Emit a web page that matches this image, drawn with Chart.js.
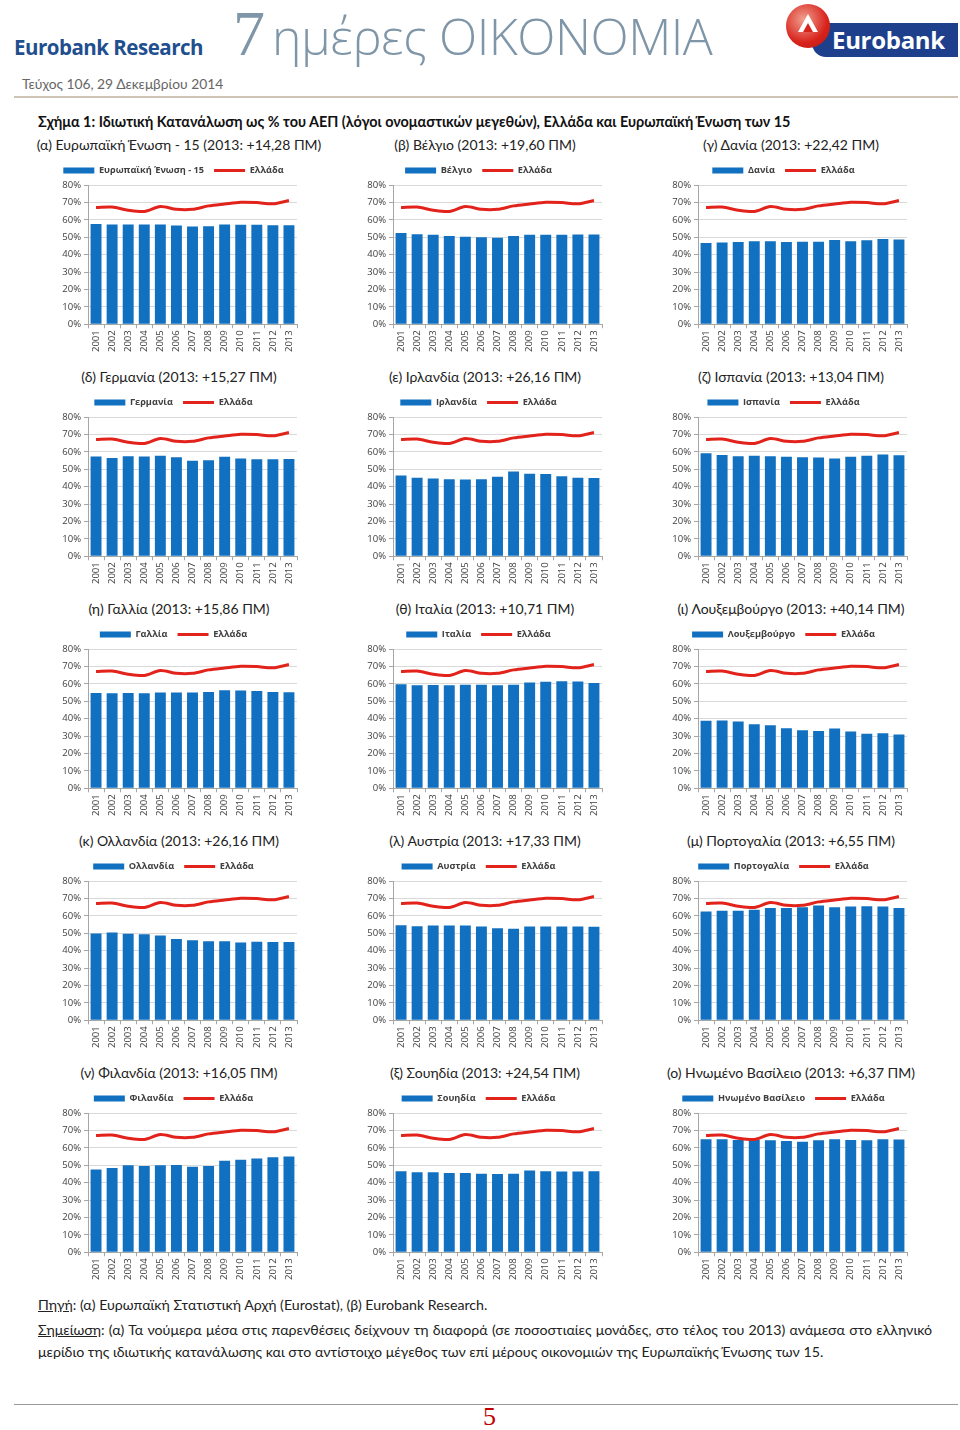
<!DOCTYPE html>
<html>
<head>
<meta charset="utf-8">
<script src="https://cdn.jsdelivr.net/npm/chart.js@4.4.1/dist/chart.umd.min.js"></script>
<style>
  html,body{margin:0;padding:0;background:#fff;}
  body{width:960px;height:1430px;position:relative;overflow:hidden;font-family:"Lato","Open Sans",sans-serif;}
  .abs{position:absolute;white-space:nowrap;}
  canvas.ch{position:absolute;}
  .sub{position:absolute;width:320px;text-align:center;font-size:14px;line-height:20px;color:#222;font-family:"Lato",sans-serif;}
</style>
</head>
<body>
<!-- header -->
<div class="abs" style="left:14px;top:33px;font:bold 20.5px 'Open Sans',sans-serif;color:#1f4f8f;letter-spacing:-0.5px;">Eurobank Research</div>
<div class="abs" style="left:233px;top:-3px;font:64px 'Liberation Serif',serif;color:#7f96a8;">7</div>
<div class="abs" style="left:272px;top:3px;font:300 49px 'Open Sans',sans-serif;color:#7f96a8;transform-origin:0 0;transform:scaleX(1.02);letter-spacing:-0.5px;">ημέρες ΟΙΚΟΝΟΜΙΑ</div>
<div style="position:absolute;left:812px;top:23px;width:146px;height:34px;background:#1d3f8c;border-radius:0 0 0 14px;"></div>
<div class="abs" style="left:832px;top:23px;font:bold 24px 'Open Sans',sans-serif;color:#fff;letter-spacing:-0.3px;">Eurobank</div>
<div style="position:absolute;left:786px;top:4px;width:44px;height:44px;border-radius:50%;background:radial-gradient(circle at 40% 35%,#f0a090,#d8231c 60%,#b01810);"></div>
<div style="position:absolute;left:798px;top:14px;width:0;height:0;border-left:10px solid transparent;border-right:10px solid transparent;border-bottom:18px solid #fff;"></div>
<div style="position:absolute;left:803px;top:23px;width:0;height:0;border-left:5px solid transparent;border-right:5px solid transparent;border-bottom:9px solid #d8231c;"></div>
<div class="abs" style="left:22px;top:75px;font:13.8px 'Lato',sans-serif;color:#666;">Τεύχος 106, 29 Δεκεμβρίου 2014</div>
<div style="position:absolute;left:14px;top:96px;width:944px;height:2px;background:#cfc3b3;"></div>

<div class="abs" style="left:38px;top:113px;font:bold 14.4px 'Lato',sans-serif;color:#111;">Σχήμα 1: Ιδιωτική Κατανάλωση ως % του ΑΕΠ (λόγοι ονομαστικών μεγεθών), Ελλάδα και Ευρωπαϊκή Ένωση των 15</div>

<div id="grid"></div>

<!-- footer -->
<div class="abs" style="left:38px;top:1296px;font:14.2px 'Lato',sans-serif;color:#222;"><u>Πηγή</u>: (α) Ευρωπαϊκή Στατιστική Αρχή (Eurostat), (β) Eurobank Research.</div>
<div style="position:absolute;left:38px;top:1319px;width:894px;font:14.2px 'Lato',sans-serif;color:#222;line-height:22px;text-align:justify;text-align-last:justify;white-space:nowrap;"><u>Σημείωση</u>: (α) Τα νούμερα μέσα στις παρενθέσεις δείχνουν τη διαφορά (σε ποσοστιαίες μονάδες, στο τέλος του 2013) ανάμεσα στο ελληνικό</div>
<div class="abs" style="left:38px;top:1341px;font:14.2px 'Lato',sans-serif;color:#222;line-height:22px;">μερίδιο της ιδιωτικής κατανάλωσης και στο αντίστοιχο μέγεθος των επί μέρους οικονομιών της Ευρωπαϊκής Ένωσης των 15.</div>
<div style="position:absolute;left:14px;top:1404px;width:944px;height:1px;background:#999;"></div>
<div class="abs" style="left:483px;top:1402px;font:26px 'Liberation Serif',serif;color:#c00000;">5</div>

<script>
// ---------------- DATA ----------------
const years = ['2001','2002','2003','2004','2005','2006','2007','2008','2009','2010','2011','2012','2013'];
const yTicks = [0,10,20,30,40,50,60,70,80];
const greeceLabel = 'Ελλάδα';
const greece      = [67.2,67.4,65.6,64.9,67.7,66.1,66.1,68.1,69.2,70.2,70.0,69.3,71.2];

const eu15        = [57.7,57.4,57.4,57.4,57.4,56.8,56.2,56.4,57.4,57.2,57.2,57.0,56.9];
const belgium     = [52.5,51.8,51.5,50.8,50.3,50.0,49.8,50.8,51.5,51.5,51.5,51.7,51.6];
const denmark     = [46.7,47.0,47.3,47.8,47.8,47.3,47.5,47.5,48.5,47.8,48.3,49.0,48.8];
const germany     = [57.4,56.6,57.5,57.4,57.8,57.0,55.0,55.2,57.3,56.2,55.8,55.8,55.9];
const ireland     = [46.5,45.2,44.8,44.3,44.2,44.3,45.8,48.8,47.4,47.3,46.0,45.2,45.0];
const spain       = [59.2,58.3,57.6,57.8,57.5,57.3,57.0,56.8,56.2,57.3,57.8,58.6,58.1];
const france      = [54.8,54.6,54.8,54.7,55.1,55.1,55.1,55.4,56.4,56.3,55.9,55.4,55.3];
const italy       = [59.9,59.3,59.4,59.3,59.5,59.5,59.3,59.5,60.8,61.3,61.6,61.4,60.5];
const luxembourg  = [38.8,39.0,38.4,36.8,36.2,34.5,33.4,32.9,34.4,32.6,31.4,31.7,31.0];
const netherlands = [49.9,50.5,49.8,49.5,48.8,46.7,46.0,45.5,45.5,44.8,45.1,45.0,45.0];
const austria     = [54.6,54.1,54.5,54.5,54.5,54.0,53.0,52.6,54.0,54.0,54.0,54.0,53.8];
const portugal    = [62.6,63.0,63.0,63.6,64.6,64.6,65.0,66.0,65.0,65.5,65.6,65.5,64.6];
const finland     = [47.6,48.5,50.0,49.6,50.0,50.2,49.2,49.6,52.6,53.2,54.0,54.6,55.1];
const sweden      = [46.6,46.1,46.1,45.6,45.6,45.1,45.0,45.1,47.1,46.6,46.5,46.5,46.6];
const uk          = [65.0,65.0,64.6,64.6,64.5,64.0,63.6,64.5,65.0,64.6,64.5,65.0,64.8];

const countryLabels = ['Ευρωπαϊκή Ένωση - 15','Βέλγιο','Δανία','Γερμανία','Ιρλανδία','Ισπανία','Γαλλία','Ιταλία','Λουξεμβούργο','Ολλανδία','Αυστρία','Πορτογαλία','Φιλανδία','Σουηδία','Ηνωμένο Βασίλειο'];
const countrySeries = [eu15,belgium,denmark,germany,ireland,spain,france,italy,luxembourg,netherlands,austria,portugal,finland,sweden,uk];
const subtitles = [
  '(α) Ευρωπαϊκή Ένωση - 15 (2013: +14,28 ΠΜ)',
  '(β) Βέλγιο (2013: +19,60 ΠΜ)',
  '(γ) Δανία (2013: +22,42 ΠΜ)',
  '(δ) Γερμανία (2013: +15,27 ΠΜ)',
  '(ε) Ιρλανδία (2013: +26,16 ΠΜ)',
  '(ζ) Ισπανία (2013: +13,04 ΠΜ)',
  '(η) Γαλλία (2013: +15,86 ΠΜ)',
  '(θ) Ιταλία (2013: +10,71 ΠΜ)',
  '(ι) Λουξεμβούργο (2013: +40,14 ΠΜ)',
  '(κ) Ολλανδία (2013: +26,16 ΠΜ)',
  '(λ) Αυστρία (2013: +17,33 ΠΜ)',
  '(μ) Πορτογαλία (2013: +6,55 ΠΜ)',
  '(ν) Φιλανδία (2013: +16,05 ΠΜ)',
  '(ξ) Σουηδία (2013: +24,54 ΠΜ)',
  '(ο) Ηνωμένο Βασίλειο (2013: +6,37 ΠΜ)'
];

// ---------------- LAYOUT ----------------
const BLUE = '#1170bf';
const RED = '#e2231c';
const colLeft = [50, 355, 660];
const subCenter = [179, 485, 791];
const rowTop = 156, rowStep = 232;
const FONT = "'Open Sans', sans-serif";

const grid = document.getElementById('grid');
countrySeries.forEach((vals, i) => {
  const c = i % 3, r = Math.floor(i / 3);
  const sub = document.createElement('div');
  sub.className = 'sub';
  sub.style.left = (subCenter[c] - 160) + 'px';
  sub.style.top = (158 - 23 + r * rowStep) + 'px';
  sub.textContent = subtitles[i];
  grid.appendChild(sub);

  const cv = document.createElement('canvas');
  cv.className = 'ch';
  cv.width = 260; cv.height = 198;
  cv.style.left = colLeft[c] + 'px';
  cv.style.top = (rowTop + r * rowStep) + 'px';
  grid.appendChild(cv);

  new Chart(cv, {
    type: 'bar',
    data: {
      labels: years,
      datasets: [
        { type: 'bar', label: countryLabels[i], data: vals, backgroundColor: BLUE, borderWidth: 0,
          barPercentage: 0.68, categoryPercentage: 1, order: 1, pointStyle: 'rect' },
        { type: 'line', label: greeceLabel, data: greece, borderColor: RED, backgroundColor: RED,
          borderWidth: 3, pointRadius: 0, tension: 0.3, order: 0, pointStyle: 'line' }
      ]
    },
    options: {
      responsive: false, animation: false, devicePixelRatio: 1,
      layout: { padding: { left: 0, right: 13, top: 0, bottom: 0 } },
      plugins: {
        tooltip: { enabled: false },
        legend: {
          position: 'top',
          labels: {
            usePointStyle: true, pointStyleWidth: 31, boxHeight: 6, padding: 10,
            font: { family: FONT, size: 9.2, weight: 'bold' }, color: '#404040',
            sort: (a, b) => a.datasetIndex - b.datasetIndex
          }
        }
      },
      scales: {
        x: {
          grid: { display: true, drawOnChartArea: false, offset: true, tickLength: 4, color: '#a6a6a6' },
          border: { color: '#a6a6a6' },
          ticks: { minRotation: 90, maxRotation: 90, autoSkip: false, padding: 2,
                   font: { family: FONT, size: 9.5 }, color: '#404040' }
        },
        y: {
          min: 0, max: 80,
          afterBuildTicks: s => { s.ticks = yTicks.map(v => ({ value: v })); },
          afterFit: s => { s.width = 38; },
          grid: { color: '#d9d9d9', tickLength: 4, tickColor: '#a6a6a6' },
          border: { color: '#a6a6a6' },
          ticks: { padding: 3, callback: v => v + '%', font: { family: FONT, size: 9.5 }, color: '#404040' }
        }
      }
    }
  });
});
</script>
</body>
</html>
